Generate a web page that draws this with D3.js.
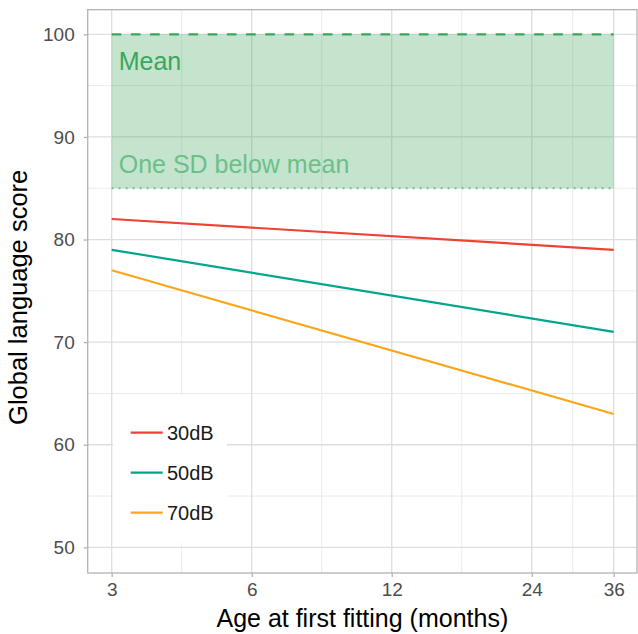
<!DOCTYPE html>
<html>
<head>
<meta charset="utf-8">
<script src="https://cdn.jsdelivr.net/npm/d3@7"></script>
<style>
  body { margin: 0; background: #fff; }
  svg { font-family: "Liberation Sans", Arial, Helvetica, sans-serif; }
</style>
</head>
<body>
<div id="chart"></div>
<script>
// data
const ages = [3, 36];
const seriesNames = ["30dB", "50dB", "70dB"];
const score30 = [82, 79];
const score50 = [79, 71];
const score70 = [77, 63];
const seriesColors = ["#ef4136", "#00a68c", "#faa61a"];
const xTicks = [3, 6, 12, 24, 36];
const yTicks = [50, 60, 70, 80, 90, 100];
const meanScore = 100;
const sdBelowScore = 85;

const W = 638, H = 634;
const panel = {left: 87.7, right: 637, top: 9.7, bottom: 573};

const svg = d3.select("#chart")
  .append("svg")
  .attr("width", W)
  .attr("height", H);

// scales (log x, like the reference)
const x = d3.scaleLog()
  .domain([2.664, 40.4])
  .range([panel.left, panel.right]);

const y = d3.scaleLinear()
  .domain([47.5, 102.4])
  .range([panel.bottom, panel.top]);

// minor gridlines sit half way between major ones
const xMinor = d3.pairs(xTicks).map(p => Math.sqrt(p[0] * p[1]));
const yMinor = d3.pairs(yTicks).map(p => (p[0] + p[1]) / 2);

const grid = svg.append("g");
grid.selectAll(".xminor")
  .data(xMinor)
  .join("line")
    .attr("x1", d => x(d)).attr("x2", d => x(d))
    .attr("y1", panel.top).attr("y2", panel.bottom)
    .attr("stroke", "#ebebeb").attr("stroke-width", 1);
grid.selectAll(".yminor")
  .data(yMinor)
  .join("line")
    .attr("y1", d => y(d)).attr("y2", d => y(d))
    .attr("x1", panel.left).attr("x2", panel.right)
    .attr("stroke", "#ebebeb").attr("stroke-width", 1);
grid.selectAll(".xmajor")
  .data(xTicks)
  .join("line")
    .attr("x1", d => x(d)).attr("x2", d => x(d))
    .attr("y1", panel.top).attr("y2", panel.bottom)
    .attr("stroke", "#dedede").attr("stroke-width", 1.3);
grid.selectAll(".ymajor")
  .data(yTicks)
  .join("line")
    .attr("y1", d => y(d)).attr("y2", d => y(d))
    .attr("x1", panel.left).attr("x2", panel.right)
    .attr("stroke", "#dedede").attr("stroke-width", 1.3);

// normal range band
svg.append("rect")
  .attr("x", x(ages[0]))
  .attr("y", y(meanScore))
  .attr("width", x(ages[1]) - x(ages[0]))
  .attr("height", y(sdBelowScore) - y(meanScore))
  .attr("fill", "#3aa65e")
  .attr("fill-opacity", 0.3);

svg.append("line")
  .attr("x1", x(ages[0])).attr("x2", x(ages[1]))
  .attr("y1", y(meanScore)).attr("y2", y(meanScore))
  .attr("stroke", "#3aa65e")
  .attr("stroke-width", 2.4)
  .attr("stroke-dasharray", "9.6,9.6");

svg.append("line")
  .attr("x1", x(ages[0])).attr("x2", x(ages[1]))
  .attr("y1", y(sdBelowScore)).attr("y2", y(sdBelowScore))
  .attr("stroke", "#6dbf8a")
  .attr("stroke-width", 1.8)
  .attr("stroke-dasharray", "1.8,5.2");

svg.append("text")
  .attr("x", x(ages[0]) + 7)
  .attr("y", y(meanScore) + 36)
  .style("font-size", "25px")
  .style("fill", "#3aa65e")
  .text("Mean");

svg.append("text")
  .attr("x", x(ages[0]) + 7)
  .attr("y", y(sdBelowScore) - 15)
  .style("font-size", "25px")
  .style("fill", "#6dbf8a")
  .text("One SD below mean");

// lines
const allScores = [score30, score50, score70];
const series = seriesNames.map((name, i) => ({
  name: name,
  color: seriesColors[i],
  values: ages.map((a, j) => ({age: a, score: allScores[i][j]}))
}));

const line = d3.line()
  .x(d => x(d.age))
  .y(d => y(d.score));

svg.selectAll(".series")
  .data(series)
  .join("path")
    .attr("fill", "none")
    .attr("stroke", d => d.color)
    .attr("stroke-width", 2.2)
    .attr("d", d => line(d.values));

// panel border
svg.append("rect")
  .attr("x", panel.left).attr("y", panel.top)
  .attr("width", panel.right - panel.left)
  .attr("height", panel.bottom - panel.top)
  .attr("fill", "none")
  .attr("stroke", "#b3b3b3")
  .attr("stroke-width", 1.3);

// axes
const xAxis = svg.append("g")
  .attr("transform", `translate(0, ${panel.bottom})`)
  .call(d3.axisBottom(x).tickValues(xTicks).tickFormat(d3.format("d")).tickSize(4).tickPadding(6));
const yAxis = svg.append("g")
  .attr("transform", `translate(${panel.left}, 0)`)
  .call(d3.axisLeft(y).tickValues(yTicks).tickSize(4).tickPadding(9));

[xAxis, yAxis].forEach(ax => {
  ax.select(".domain").remove();
  ax.selectAll(".tick line").attr("stroke", "#b3b3b3").attr("stroke-width", 1.3);
  ax.selectAll(".tick text")
    .style("font-size", "19px")
    .style("fill", "#4d4d4d")
    .style("font-family", "\"Liberation Sans\", Arial, sans-serif");
});

// axis titles
svg.append("text")
  .attr("x", (panel.left + panel.right) / 2)
  .attr("y", 627)
  .attr("text-anchor", "middle")
  .style("font-size", "25px")
  .style("fill", "#000")
  .text("Age at first fitting (months)");

svg.append("text")
  .attr("transform", `translate(27, ${(panel.top + panel.bottom) / 2 + 6}) rotate(-90)`)
  .attr("text-anchor", "middle")
  .style("font-size", "25.5px")
  .style("fill", "#000")
  .text("Global language score");

// legend
const legend = svg.append("g").attr("transform", "translate(113, 395)");
legend.append("rect")
  .attr("width", 114)
  .attr("height", 148)
  .attr("fill", "#fff");
const legendRow = legend.selectAll(".row")
  .data(series)
  .join("g")
    .attr("transform", (d, i) => `translate(0, ${37.7 + i * 40})`);
legendRow.append("line")
  .attr("x1", 17.7).attr("x2", 49.7)
  .attr("stroke", d => d.color)
  .attr("stroke-width", 2.2);
legendRow.append("text")
  .attr("x", 54)
  .attr("dy", "0.36em")
  .style("font-size", "20px")
  .style("fill", "#1a1a1a")
  .text(d => d.name);
</script>
</body>
</html>
